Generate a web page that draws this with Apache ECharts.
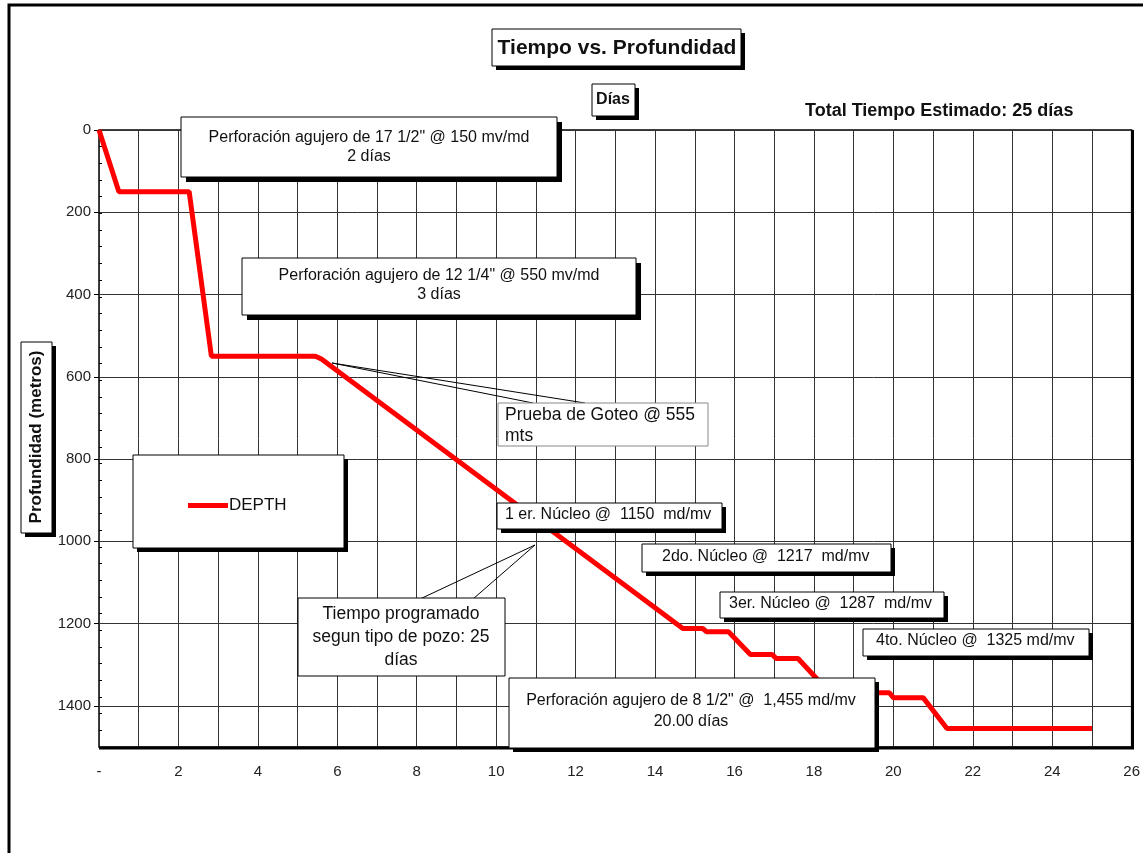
<!DOCTYPE html>
<html>
<head>
<meta charset="utf-8">
<script src="https://cdn.jsdelivr.net/npm/echarts@6/dist/echarts.min.js"></script>
<style>
  html, body { margin: 0; padding: 0; background: #fff; }
  #chart { width: 1143px; height: 853px; }
</style>
</head>
<body>
<div id="chart"></div>
<script>
// days vs depth (metros)
const dias = [0, 0.5, 2.27, 2.83, 5.45, 5.6, 14.7, 15.2, 15.3, 15.85, 16.4, 16.95, 17.05, 17.6, 18.4, 19.9, 20.0, 20.75, 21.35, 25];
const profundidad = [0, 150, 150, 550, 550, 557, 1212, 1212, 1220, 1220, 1275, 1275, 1285, 1285, 1368, 1368, 1380, 1380, 1455, 1455];
const seriesName = 'DEPTH';

const FONT = '"Liberation Sans", Arial, sans-serif';
const TXT = '#111';

const chart = echarts.init(document.getElementById('chart'));

// box with a hard black drop shadow
function box(x, y, w, h, shadow, stroke) {
  const out = [];
  if (shadow) {
    out.push({ type: 'rect', z: 20, shape: { x: x + shadow, y: y + shadow, width: w, height: h }, style: { fill: '#000' } });
  }
  out.push({ type: 'rect', z: 21, shape: { x: x, y: y, width: w, height: h }, style: { fill: '#fff', stroke: stroke || '#000', lineWidth: 1 } });
  return out;
}
function txt(x, y, text, opts) {
  opts = opts || {};
  return {
    type: 'text', z: 22, x: x, y: y, rotation: opts.rotation || 0,
    style: {
      text: text, fill: TXT, fontFamily: FONT,
      fontSize: opts.size || 16, fontWeight: opts.bold ? 'bold' : 'normal',
      align: opts.align || 'center', verticalAlign: 'middle'
    }
  };
}

const graphics = [].concat(
  // outer frame
  [{ type: 'polyline', z: 20, shape: { points: [[9, 853], [9, 5], [1143, 5]] }, style: { stroke: '#000', lineWidth: 3, fill: null } }],
  // heavier right/bottom plot border
  [{ type: 'polyline', z: 19, shape: { points: [[1132.5, 130], [1132.5, 748], [99, 748]] }, style: { stroke: '#000', lineWidth: 3, fill: null } }],
  box(492, 29, 249, 37, 4), [txt(617, 48, 'Tiempo vs. Profundidad', { size: 21, bold: true })],
  box(592, 84, 43, 32, 4), [txt(613, 100, 'Días', { size: 16, bold: true })],
  [txt(805, 111, 'Total Tiempo Estimado: 25 días', { size: 18, bold: true, align: 'left' })],
  box(21, 342, 31, 191, 4), [txt(36, 437, 'Profundidad (metros)', { size: 17, bold: true, rotation: Math.PI / 2 })],
  box(181, 117, 376, 60, 5),
  [txt(369, 138, 'Perforación agujero de 17 1/2" @ 150 mv/md'), txt(369, 157, '2 días')],
  box(242, 258, 394, 57, 5),
  [txt(439, 276, 'Perforación agujero de 12 1/4" @ 550 mv/md'), txt(439, 295, '3 días')],
  box(133, 455, 211, 93, 4),
  // callouts
  [{ type: 'polyline', z: 20, shape: { points: [[533, 403], [332, 363], [585, 403]] }, style: { stroke: '#000', lineWidth: 1, fill: null } }],
  box(498, 403, 210, 43, 0, '#888'),
  [txt(505, 415, 'Prueba de Goteo @ 555', { size: 17.5, align: 'left' }), txt(505, 436, 'mts', { size: 17.5, align: 'left' })],
  [{ type: 'polyline', z: 20, shape: { points: [[420, 599], [535, 545], [473, 599]] }, style: { stroke: '#000', lineWidth: 1, fill: null } }],
  box(298, 598, 207, 78, 0),
  [txt(401, 614, 'Tiempo programado', { size: 17.5 }), txt(401, 637, 'segun tipo de pozo: 25', { size: 17.5 }), txt(401, 660, 'días', { size: 17.5 })],
  box(497, 503, 225, 26, 4), [txt(505, 515, '1 er. Núcleo @  1150  md/mv', { align: 'left' })],
  box(642, 544, 249, 28, 4), [txt(662, 557, '2do. Núcleo @  1217  md/mv', { align: 'left' })],
  box(720, 592, 224, 26, 4), [txt(729, 604, '3er. Núcleo @  1287  md/mv', { align: 'left' })],
  box(863, 629, 226, 27, 4), [txt(876, 641, '4to. Núcleo @  1325 md/mv', { align: 'left' })],
  box(509, 678, 366, 70, 4),
  [txt(691, 701, 'Perforación agujero de 8 1/2" @  1,455 md/mv'), txt(691, 722, '20.00 días')]
);

const option = {
  backgroundColor: '#fff',
  animation: false,
  textStyle: { fontFamily: FONT },
  grid: { left: 99, top: 130, width: 1033, height: 617, show: true, borderColor: '#000', borderWidth: 1.5 },
  legend: {
    data: [{ name: seriesName, icon: 'rect' }],
    left: 183, top: 492, z: 50,
    itemWidth: 40, itemHeight: 5, itemGap: 2,
    textStyle: { fontSize: 17, color: TXT, fontFamily: FONT, padding: [0, 0, 0, -4] }
  },
  xAxis: {
    type: 'value', min: 0, max: 26, interval: 1,
    axisLine: { show: false },
    axisTick: { show: false },
    splitLine: { show: true, lineStyle: { color: '#333', width: 1 } },
    axisLabel: {
      margin: 17, fontSize: 15, color: '#222',
      formatter: v => (v === 0 ? '-' : (v % 2 === 0 ? String(v) : ''))
    }
  },
  yAxis: [
    {
      type: 'value', inverse: true, min: 0, max: 1500, interval: 200,
      axisLine: { show: false },
      axisTick: { show: true, length: 5, lineStyle: { color: '#000' } },
      splitLine: { show: true, lineStyle: { color: '#333', width: 1 } },
      axisLabel: { fontSize: 15, color: '#222', margin: 8, showMaxLabel: false, formatter: v => String(v) }
    },
    {
      // small inner ticks
      type: 'value', inverse: true, min: 0, max: 1480, interval: 40, position: 'left',
      gridIndex: 0,
      axisLine: { show: false },
      axisTick: { show: true, inside: true, length: 3, lineStyle: { color: '#000' } },
      splitLine: { show: false },
      axisLabel: { show: false }
    }
  ],
  series: [
    {
      name: seriesName,
      type: 'line',
      data: dias.map((d, i) => [d, profundidad[i]]),
      showSymbol: false,
      symbol: 'none',
      lineStyle: { color: '#ff0000', width: 5 },
      itemStyle: { color: '#ff0000' },
      z: 5
    }
  ],
  graphic: graphics
};

chart.setOption(option);
</script>
</body>
</html>
